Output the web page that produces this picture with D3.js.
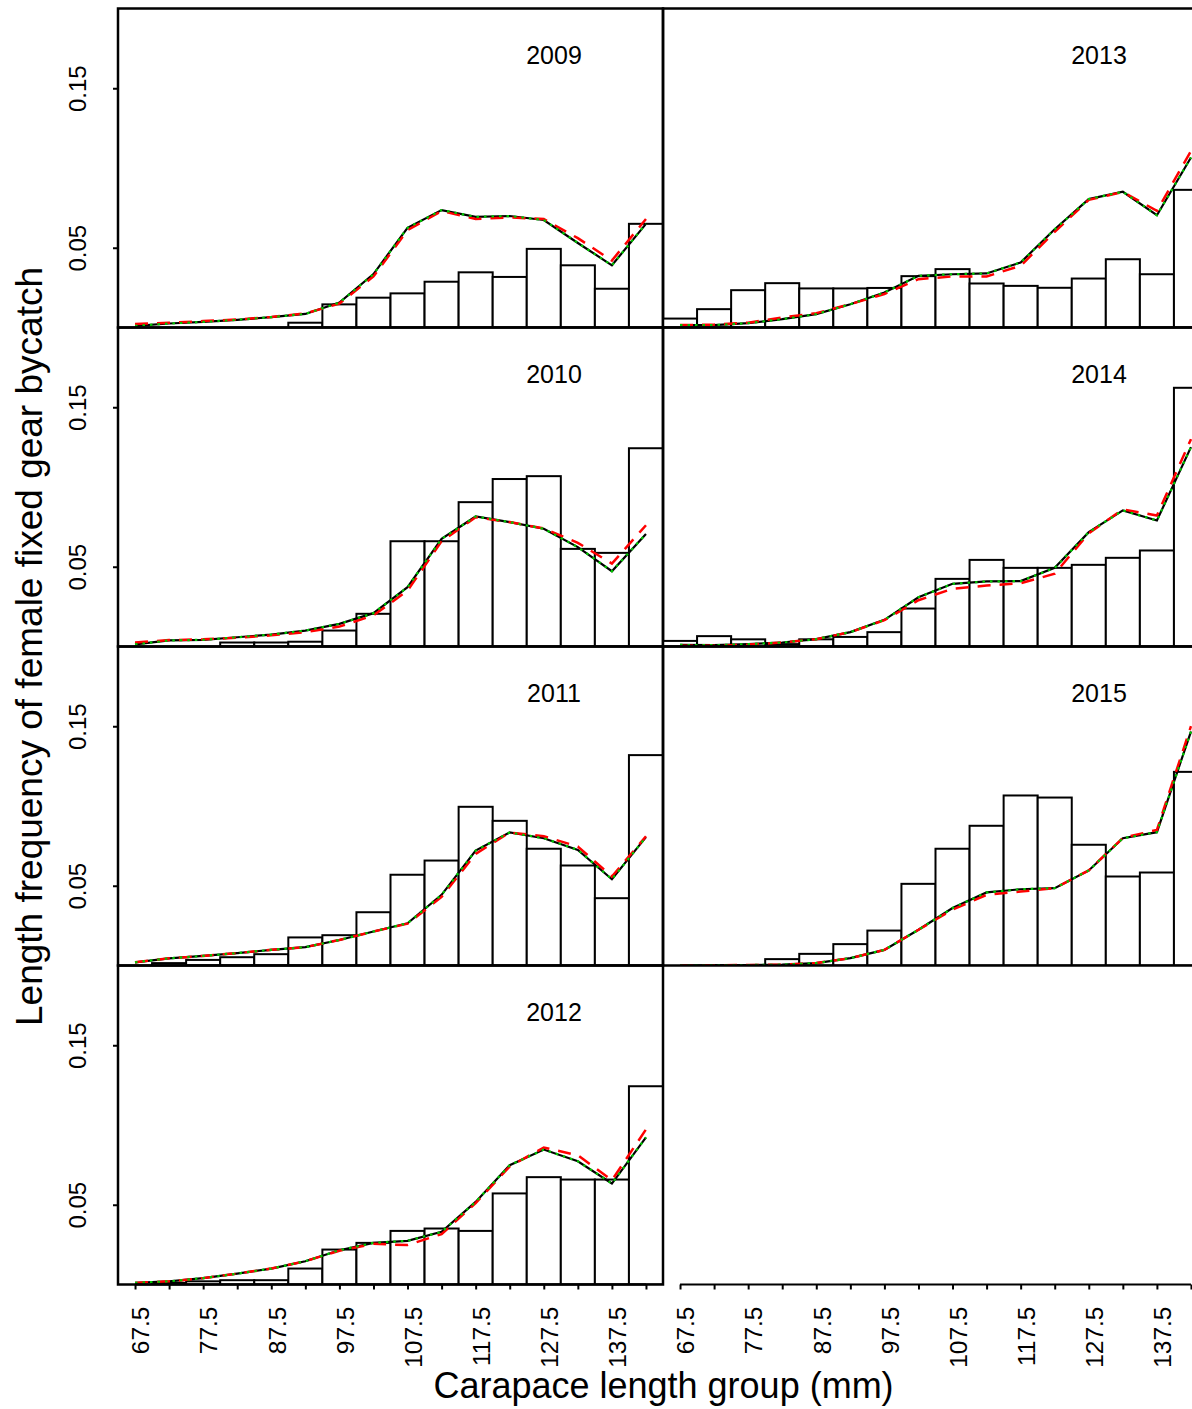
<!DOCTYPE html>
<html>
<head>
<meta charset="utf-8">
<script src="https://cdn.jsdelivr.net/npm/d3@7"></script>
<style>
  html, body { margin: 0; padding: 0; background: #fff; }
  svg { display: block; }
  text { font-family: "Liberation Sans", Arial, sans-serif; fill: #000; }
</style>
</head>
<body>
<svg id="chart" width="1192" height="1409"></svg>
<script>
// Carapace length groups (bin centres, mm)
const bins = [67.5, 72.5, 77.5, 82.5, 87.5, 92.5, 97.5, 102.5, 107.5, 112.5, 117.5, 122.5, 127.5, 132.5, 137.5, 142.5];
const xTickLabels = ["67.5", "77.5", "87.5", "97.5", "107.5", "117.5", "127.5", "137.5"];
const yTicks = [0.05, 0.15];
const years = [2009, 2010, 2011, 2012, 2013, 2014, 2015];

// Observed length frequencies (histogram bars)
const obs2009 = [0, 0, 0, 0, 0, 0.003, 0.0145, 0.0187, 0.0214, 0.0287, 0.0346, 0.0317, 0.0493, 0.039, 0.0243, 0.065];
const obs2010 = [0, 0, 0, 0.0025, 0.0025, 0.003, 0.010, 0.0205, 0.066, 0.066, 0.0905, 0.105, 0.1068, 0.0612, 0.0587, 0.1243];
const obs2011 = [0, 0.0015, 0.0035, 0.0052, 0.0071, 0.0176, 0.019, 0.0334, 0.0569, 0.0658, 0.0995, 0.0907, 0.0732, 0.0627, 0.0422, 0.1319];
const obs2012 = [0, 0.001, 0.002, 0.0027, 0.0027, 0.010, 0.0219, 0.0261, 0.0336, 0.0351, 0.0336, 0.0571, 0.0673, 0.0658, 0.0658, 0.1243];
const obs2013 = [0.0056, 0.0115, 0.0234, 0.0278, 0.0245, 0.0245, 0.0248, 0.0322, 0.0366, 0.0276, 0.0261, 0.0249, 0.0307, 0.0428, 0.0334, 0.0863];
const obs2014 = [0.0035, 0.0065, 0.0045, 0.0015, 0.0045, 0.006, 0.009, 0.0238, 0.0424, 0.0543, 0.0493, 0.0493, 0.0512, 0.0556, 0.0602, 0.1622];
const obs2015 = [0, 0, 0, 0.004, 0.0073, 0.0134, 0.0219, 0.0512, 0.0732, 0.0876, 0.1066, 0.1053, 0.0757, 0.0558, 0.0583, 0.1214];

// Model fit 1 (black solid)
const fitA2009 = [0.001, 0.0025, 0.0035, 0.0048, 0.0065, 0.0085, 0.0156, 0.0335, 0.0625, 0.0736, 0.0694, 0.0699, 0.0674, 0.053, 0.039, 0.065];
const fitA2010 = [0.0013, 0.0038, 0.0042, 0.0058, 0.0075, 0.010, 0.0142, 0.0209, 0.0372, 0.0675, 0.0815, 0.078, 0.0738, 0.0623, 0.0472, 0.0706];
const fitA2011 = [0.002, 0.0045, 0.006, 0.0078, 0.0098, 0.0115, 0.016, 0.0213, 0.0265, 0.0443, 0.0721, 0.0834, 0.0798, 0.0725, 0.0541, 0.0805];
const fitA2012 = [0.001, 0.002, 0.004, 0.0068, 0.010, 0.0146, 0.0215, 0.0261, 0.0274, 0.033, 0.0518, 0.0748, 0.0846, 0.0773, 0.0633, 0.0922];
const fitA2013 = [0.0015, 0.0015, 0.0027, 0.0052, 0.0084, 0.0146, 0.0219, 0.0324, 0.0334, 0.0339, 0.0408, 0.0616, 0.0805, 0.0851, 0.0704, 0.1066];
const fitA2014 = [0.001, 0.0008, 0.0015, 0.0025, 0.0046, 0.009, 0.0167, 0.0309, 0.0393, 0.0408, 0.041, 0.0493, 0.0717, 0.0853, 0.079, 0.125];
const fitA2015 = [0, 0.0002, 0.0003, 0.0005, 0.0015, 0.0046, 0.0098, 0.0224, 0.036, 0.0458, 0.0478, 0.0485, 0.0596, 0.0798, 0.0836, 0.1467];

// Model fit 2 (red dashed)
const fitB2009 = [0.0022, 0.003, 0.004, 0.005, 0.0066, 0.0088, 0.015, 0.032, 0.061, 0.073, 0.068, 0.069, 0.068, 0.056, 0.042, 0.068];
const fitB2010 = [0.0025, 0.004, 0.0045, 0.0055, 0.007, 0.009, 0.0125, 0.0195, 0.035, 0.066, 0.081, 0.078, 0.074, 0.065, 0.052, 0.076];
const fitB2011 = [0.002, 0.0045, 0.006, 0.0078, 0.0098, 0.0115, 0.016, 0.0213, 0.0262, 0.043, 0.070, 0.0834, 0.081, 0.0746, 0.0558, 0.081];
const fitB2012 = [0.001, 0.002, 0.004, 0.0068, 0.010, 0.0146, 0.0212, 0.0255, 0.0247, 0.0316, 0.051, 0.074, 0.0859, 0.081, 0.0654, 0.0972];
const fitB2013 = [0.0015, 0.0018, 0.003, 0.0063, 0.009, 0.0146, 0.021, 0.0303, 0.032, 0.032, 0.0387, 0.060, 0.080, 0.085, 0.0731, 0.1107];
const fitB2014 = [0.0005, 0.0005, 0.0012, 0.0025, 0.0046, 0.009, 0.0165, 0.029, 0.0362, 0.0382, 0.0397, 0.0456, 0.071, 0.086, 0.0821, 0.130];
const fitB2015 = [0, 0.0002, 0.0003, 0.0005, 0.0015, 0.0046, 0.0098, 0.0224, 0.035, 0.0443, 0.0464, 0.0485, 0.0596, 0.080, 0.085, 0.150];

// Model fit 3 (green dotted)
const fitC2009 = [0.001, 0.0025, 0.0035, 0.0048, 0.0065, 0.0085, 0.0156, 0.0335, 0.0625, 0.0736, 0.0694, 0.0699, 0.0674, 0.053, 0.039, 0.065];
const fitC2010 = [0.0013, 0.0038, 0.0042, 0.0058, 0.0075, 0.010, 0.0142, 0.0209, 0.0372, 0.0675, 0.0815, 0.078, 0.0738, 0.0623, 0.0472, 0.0706];
const fitC2011 = [0.002, 0.0045, 0.006, 0.0078, 0.0098, 0.0115, 0.016, 0.0213, 0.0265, 0.0443, 0.0721, 0.0834, 0.0798, 0.0725, 0.0541, 0.0805];
const fitC2012 = [0.001, 0.002, 0.004, 0.0068, 0.010, 0.0146, 0.0215, 0.0261, 0.0274, 0.033, 0.0518, 0.0748, 0.0846, 0.0773, 0.0633, 0.0922];
const fitC2013 = [0.0015, 0.0015, 0.0027, 0.0052, 0.0084, 0.0146, 0.0219, 0.0324, 0.0334, 0.0339, 0.0408, 0.0616, 0.0805, 0.0851, 0.0704, 0.1066];
const fitC2014 = [0.001, 0.0008, 0.0015, 0.0025, 0.0046, 0.009, 0.0167, 0.0309, 0.0393, 0.0408, 0.041, 0.0493, 0.0717, 0.0853, 0.079, 0.125];
const fitC2015 = [0, 0.0002, 0.0003, 0.0005, 0.0015, 0.0046, 0.0098, 0.0224, 0.036, 0.0458, 0.0478, 0.0485, 0.0596, 0.0798, 0.0836, 0.1467];

const observed = [obs2009, obs2010, obs2011, obs2012, obs2013, obs2014, obs2015];
const fitA = [fitA2009, fitA2010, fitA2011, fitA2012, fitA2013, fitA2014, fitA2015];
const fitB = [fitB2009, fitB2010, fitB2011, fitB2012, fitB2013, fitB2014, fitB2015];
const fitC = [fitC2009, fitC2010, fitC2011, fitC2012, fitC2013, fitC2014, fitC2015];

// Panel grid: two columns, left holds 2009-2012, right 2013-2015
const colX = [118, 663];
const rowY = [8.5, 327.5, 646.5, 965.5];
const panelW = 545, panelH = 319;
const binWidth = 5;

const panels = years.map((yr, i) => ({
  year: yr,
  col: i < 4 ? 0 : 1,
  row: i < 4 ? i : i - 4,
  obs: observed[i], a: fitA[i], b: fitB[i], c: fitC[i]
}));

const svg = d3.select("#chart");
const x = d3.scaleLinear().domain([65, 145]).range([0, panelW]);
const y = d3.scaleLinear().domain([0, 0.2]).range([panelH, 0]);

const clipId = "panel-clip";
svg.append("defs").append("clipPath").attr("id", clipId)
  .append("rect").attr("x", 0).attr("y", 0).attr("width", panelW).attr("height", panelH);

const line = d3.line().x((d, i) => x(bins[i])).y(d => y(d));

panels.forEach(p => {
  const g = svg.append("g").attr("transform", `translate(${colX[p.col]},${rowY[p.row]})`);
  const inner = g.append("g").attr("clip-path", `url(#${clipId})`);

  // histogram bars
  inner.selectAll("rect.bar")
    .data(p.obs.map((v, i) => ({ v, mid: bins[i] })).filter(d => d.v > 0))
    .join("rect")
    .attr("class", "bar")
    .attr("x", d => x(d.mid - binWidth / 2))
    .attr("width", d => x(d.mid + binWidth / 2) - x(d.mid - binWidth / 2))
    .attr("y", d => y(d.v))
    .attr("height", d => y(0) - y(d.v))
    .attr("fill", "#fff")
    .attr("stroke", "#000")
    .attr("stroke-width", 2);

  // fitted curves
  inner.append("path").datum(p.a).attr("d", line)
    .attr("fill", "none").attr("stroke", "#000").attr("stroke-width", 2.2);
  inner.append("path").datum(p.b).attr("d", line)
    .attr("fill", "none").attr("stroke", "#ff0000").attr("stroke-width", 2.5)
    .attr("stroke-dasharray", "13,9");
  inner.append("path").datum(p.c).attr("d", line)
    .attr("fill", "none").attr("stroke", "#00c800").attr("stroke-width", 2.2)
    .attr("stroke-dasharray", "2.5,5");

  // year label
  g.append("text")
    .attr("x", x(129)).attr("y", 55)
    .attr("text-anchor", "middle")
    .style("font-size", "25px")
    .text(p.year);

  // y axis on left column
  if (p.col === 0) {
    const ay = g.append("g").call(
      d3.axisLeft(y).tickValues(yTicks).tickSize(5).tickSizeOuter(0).tickFormat(d3.format(".2f"))
    );
    ay.select(".domain").remove();
    ay.selectAll(".tick line").attr("stroke", "#000").attr("stroke-width", 2);
    ay.selectAll(".tick text")
      .attr("transform", "rotate(-90)")
      .attr("x", 0).attr("y", -40.5).attr("dy", "0.36em")
      .attr("text-anchor", "middle")
      .style("font-size", "24px")
      .style("font-family", '"Liberation Sans", Arial, sans-serif');
  }

  // panel frame
  g.append("rect")
    .attr("x", 0).attr("y", 0).attr("width", panelW).attr("height", panelH)
    .attr("fill", "none").attr("stroke", "#000").attr("stroke-width", 2.5);
});

// bottom axes (both columns)
colX.forEach(cx => {
  const ax = svg.append("g").attr("transform", `translate(${cx},${rowY[3] + panelH})`)
    .call(d3.axisBottom(x).tickValues(bins).tickSize(5).tickSizeOuter(0)
      .tickFormat(d => xTickLabels.includes(String(d)) ? String(d) : ""));
  ax.select(".domain").remove();
  ax.append("line")
    .attr("x1", x(bins[0])).attr("x2", x(bins[bins.length - 1]))
    .attr("y1", 0).attr("y2", 0)
    .attr("stroke", "#000").attr("stroke-width", 2);
  ax.selectAll(".tick line").attr("stroke", "#000").attr("stroke-width", 2);
  ax.selectAll(".tick text")
    .attr("transform", "rotate(-90)")
    .attr("x", -22).attr("y", 5).attr("dy", "0.36em")
    .attr("text-anchor", "end")
    .style("font-size", "24.5px")
    .style("font-family", '"Liberation Sans", Arial, sans-serif');
});

// axis titles
svg.append("text")
  .attr("x", 663.5).attr("y", 1398)
  .attr("text-anchor", "middle")
  .style("font-size", "36px")
  .text("Carapace length group (mm)");

svg.append("text")
  .attr("transform", "translate(42,646.5) rotate(-90)")
  .attr("text-anchor", "middle")
  .style("font-size", "37px")
  .text("Length frequency of female fixed gear bycatch");
</script>
</body>
</html>
